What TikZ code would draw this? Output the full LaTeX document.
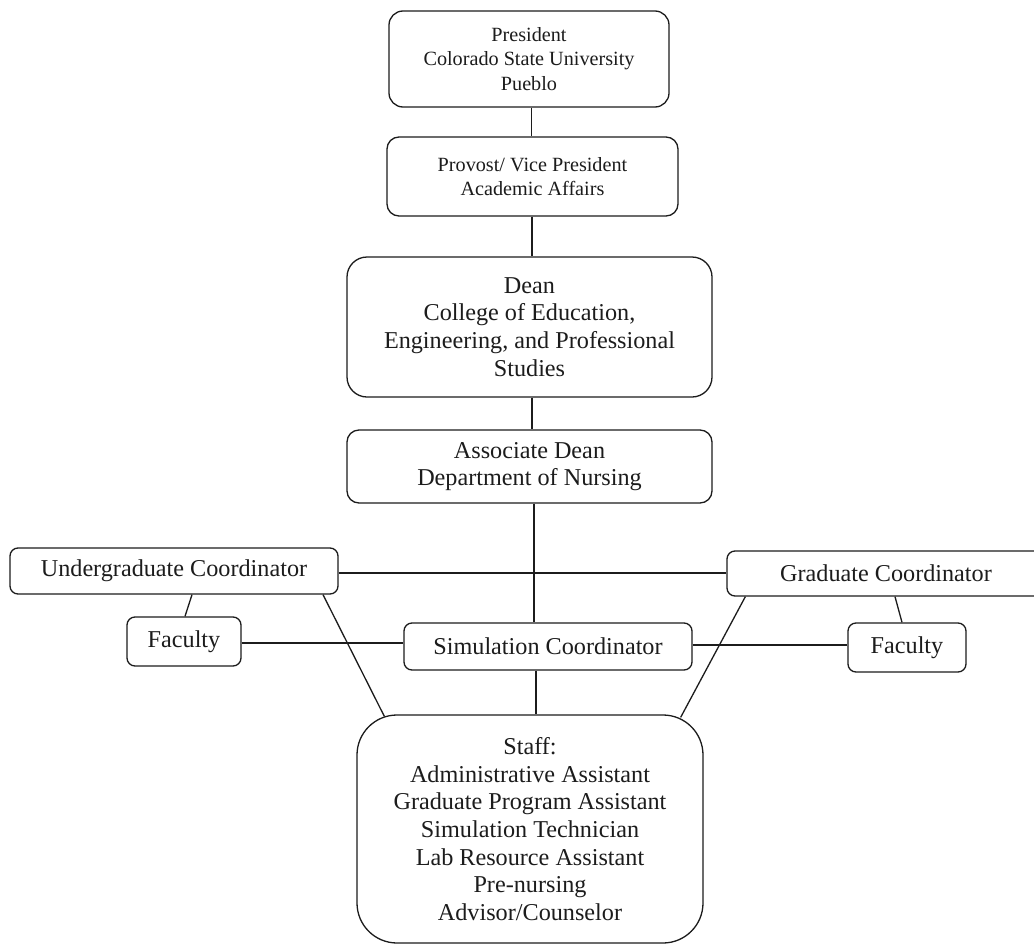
\documentclass[tikz,border=0pt]{standalone}
\usepackage{fontspec}
\setmainfont{Liberation Serif}
\definecolor{ink}{HTML}{1C1C1C}
\begin{document}
\begin{tikzpicture}[x=1pt,y=-1pt,
  box/.style={draw=ink, line width=1.3pt, rounded corners=#1, align=center, inner sep=0pt, text=ink},
  box/.default=8pt,
  big/.style={font=\fontsize{24.2}{27.7}\selectfont},
  small/.style={font=\fontsize{20.2}{24.5}\selectfont},
  link/.style={draw=ink, line width=1.3pt}]
\useasboundingbox (0,0) rectangle (1034,945);
\fill[white] (0,0) rectangle (1034,945);

\node[box=14pt, small, minimum width=280pt, minimum height=96pt] (pres) at (529,59) {President\\Colorado State University\\Pueblo};
\node[box=12pt, small, minimum width=291pt, minimum height=79pt] (prov) at (532.5,176.5) {Provost/ Vice President\\Academic Affairs};
\node[box=20pt, big, minimum width=365pt, minimum height=140pt] (dean) at (529.5,327) {Dean\\College of Education,\\Engineering, and Professional\\Studies};
\node[box=12pt, big, minimum width=365pt, minimum height=73pt] (assoc) at (529.5,466.5) {Associate Dean\\Department of Nursing};
\node[box, big, minimum width=328pt, minimum height=46pt] (ug) at (174,571) {Undergraduate Coordinator};
\node[box, big, minimum width=318pt, minimum height=45pt] (grad) at (886,573.5) {Graduate Coordinator};
\node[box, big, minimum width=114pt, minimum height=49pt] (facL) at (184,641.5) {Faculty};
\node[box, big, minimum width=288pt, minimum height=47pt] (sim) at (548,646.5) {Simulation Coordinator};
\node[box, big, minimum width=118pt, minimum height=49pt] (facR) at (907,647.5) {Faculty};
\node[box=40pt, big, minimum width=346pt, minimum height=228pt] (staff) at (530,829) {Staff:\\Administrative Assistant\\Graduate Program Assistant\\Simulation Technician\\Lab Resource Assistant\\Pre-nursing\\Advisor/Counselor};

\draw[link] ([xshift=2.5pt]pres.south) -- ([xshift=2.5pt]pres.south |- prov.north);
\draw[link] ([xshift=-0.5pt]prov.south) -- ([xshift=-0.5pt]prov.south |- dean.north);
\draw[link] ([xshift=2.5pt]dean.south) -- ([xshift=2.5pt]dean.south |- assoc.north);
\draw[link] ([xshift=4.5pt]assoc.south) -- ([xshift=4.5pt]assoc.south |- sim.north);
\draw[link] ([xshift=-12pt]sim.south) -- ([xshift=-12pt]sim.south |- staff.north);
\draw[link] ([yshift=-2pt]ug.east) -- ([yshift=-2pt]ug.east -| grad.west);
\draw[link] ([xshift=18pt]ug.south) -- ([xshift=1pt]facL.north);
\draw[link] ([yshift=-1.5pt]facL.east) -- ([yshift=-1.5pt]facL.east -| sim.west);
\draw[link] ([xshift=149pt]ug.south) -- ([xshift=28pt,yshift=-2pt]staff.north west);
\draw[link] ([xshift=19pt]grad.south west) -- ([xshift=-23pt,yshift=-3pt]staff.north east);
\draw[link] ([yshift=1.5pt]sim.east) -- ([yshift=1.5pt]sim.east -| facR.west);
\draw[link] ([xshift=9pt]grad.south) -- ([xshift=-5pt]facR.north);
\end{tikzpicture}
\end{document}
